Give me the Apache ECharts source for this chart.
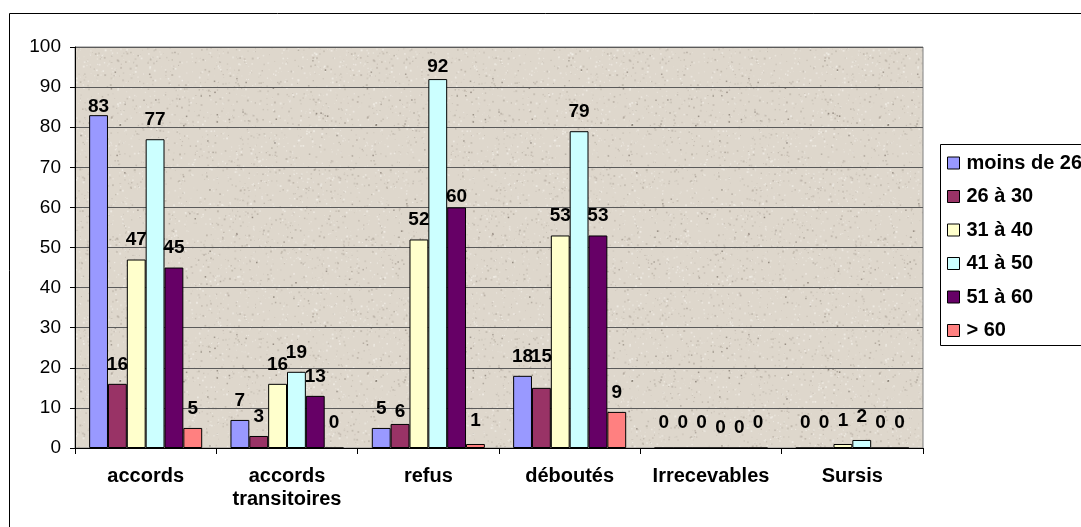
<!DOCTYPE html>
<html>
<head>
<meta charset="utf-8">
<script src="https://cdn.jsdelivr.net/npm/echarts@6/dist/echarts.min.js"></script>
<style>
  html, body { margin: 0; padding: 0; background: #fff; }
  #chart { width: 1081px; height: 527px; }
</style>
</head>
<body>
<div id="chart"></div>
<script>
// Décisions par tranche d'âge
const categories = ['accords', 'accords\ntransitoires', 'refus', 'déboutés', 'Irrecevables', 'Sursis'];
const seriesNames = ['moins de 26', '26 à 30', '31 à 40', '41 à 50', '51 à 60', '> 60'];
const moinsDe26 = [83, 7, 5, 18, 0, 0];
const de26a30 = [16, 3, 6, 15, 0, 0];
const de31a40 = [47, 16, 52, 53, 0, 1];
const de41a50 = [77, 19, 92, 79, 0, 2];
const de51a60 = [45, 13, 60, 53, 0, 0];
const plus60 = [5, 0, 1, 9, 0, 0];
const yTicks = [0, 10, 20, 30, 40, 50, 60, 70, 80, 90, 100];

const seriesValues = [moinsDe26, de26a30, de31a40, de41a50, de51a60, plus60];
const seriesColors = ['#9999FF', '#993366', '#FFFFCC', '#CCFFFF', '#660066', '#FF8080'];

// small vertical nudges (px) for individual value labels: [series, category, dy]
const labelNudges = [
  [0, 0, 11], [3, 2, 7], [4, 2, 9], [1, 2, 7], [1, 3, -12],
  [3, 4, 0], [4, 4, 0]
];

// granite-like fill for the plotting area
function makeTexture() {
  const c = document.createElement('canvas');
  c.width = 256; c.height = 256;
  const g = c.getContext('2d');
  g.fillStyle = '#DED7CC';
  g.fillRect(0, 0, 256, 256);
  let s = 12345;
  const rnd = () => { s = (s * 1103515245 + 12345) & 0x7fffffff; return s / 0x7fffffff; };
  for (let i = 0; i < 2600; i++) {
    const x = rnd() * 256, y = rnd() * 256;
    const v = rnd();
    if (v < 0.5) g.fillStyle = 'rgba(150,140,128,' + (0.15 + rnd() * 0.25) + ')';
    else g.fillStyle = 'rgba(245,242,236,' + (0.3 + rnd() * 0.4) + ')';
    const r = 0.6 + rnd() * 1.4;
    g.fillRect(x, y, r, r);
  }
  for (let i = 0; i < 90; i++) {
    g.fillStyle = 'rgba(110,100,90,' + (0.3 + rnd() * 0.4) + ')';
    g.fillRect(rnd() * 256, rnd() * 256, 1.5, 1.5);
  }
  return c;
}

const chart = echarts.init(document.getElementById('chart'), null, { renderer: 'canvas' });

const FONT = '"Liberation Sans", Arial, sans-serif';

const series = seriesNames.map((name, si) => ({
  name,
  type: 'bar',
  barGap: '0%',
  barCategoryGap: '20%',
  itemStyle: { color: seriesColors[si], borderColor: '#000', borderWidth: 1 },
  label: {
    show: true,
    position: 'top',
    distance: 10,
    color: '#000',
    fontFamily: FONT,
    fontWeight: 'bold',
    fontSize: 19
  },
  data: seriesValues[si].map((v, ci) => {
    const n = labelNudges.find(d => d[0] === si && d[1] === ci);
    let dy = n ? n[2] : 0;
    if (v === 0 && !n) dy -= 5;
    if (v > 0 && v <= 2) dy -= 4;
    return dy ? { value: v, label: { offset: [0, dy] } } : v;
  })
}));

chart.setOption({
  animation: false,
  backgroundColor: '#fff',
  grid: {
    left: 75, right: 158, top: 47, bottom: 79,
    show: true,
    backgroundColor: { image: makeTexture(), repeat: 'repeat' },
    borderColor: '#808080',
    borderWidth: 1
  },
  legend: {
    orient: 'vertical',
    left: 940,
    top: 144,
    padding: [9, 0, 4, 7],
    itemWidth: 12,
    itemHeight: 12,
    itemGap: 13.5,
    icon: 'rect',
    itemStyle: { borderColor: '#000', borderWidth: 1 },
    textStyle: { fontFamily: FONT, fontWeight: 'bold', fontSize: 20, color: '#000', lineHeight: 20, padding: [0, 0, 0, 2] },
    data: seriesNames
  },
  xAxis: {
    type: 'category',
    data: categories,
    axisLine: { lineStyle: { color: '#000', width: 1 } },
    axisTick: { show: true, length: 6, lineStyle: { color: '#000' } },
    axisLabel: {
      margin: 17,
      color: '#000',
      fontFamily: FONT,
      fontWeight: 'bold',
      fontSize: 20,
      lineHeight: 23,
      interval: 0
    }
  },
  yAxis: {
    type: 'value',
    min: yTicks[0],
    max: yTicks[yTicks.length - 1],
    interval: 10,
    axisLine: { show: true, lineStyle: { color: '#000', width: 1 } },
    axisTick: { show: true, length: 5, lineStyle: { color: '#000' } },
    axisLabel: { margin: 14, color: '#000', fontFamily: FONT, fontSize: 19 },
    splitLine: { show: true, lineStyle: { color: '#5a5a5a', width: 1 } }
  },
  graphic: [
    {
      // chart frame
      type: 'rect',
      shape: { x: 9.5, y: 13.5, width: 1200, height: 600 },
      style: { fill: 'none', stroke: '#000', lineWidth: 1 },
      silent: true,
      z: 100
    },
    {
      // legend frame
      type: 'rect',
      shape: { x: 940.5, y: 144.5, width: 300, height: 201 },
      style: { fill: 'none', stroke: '#000', lineWidth: 1 },
      silent: true,
      z: 100
    }
  ],
  series
});
</script>
</body>
</html>
